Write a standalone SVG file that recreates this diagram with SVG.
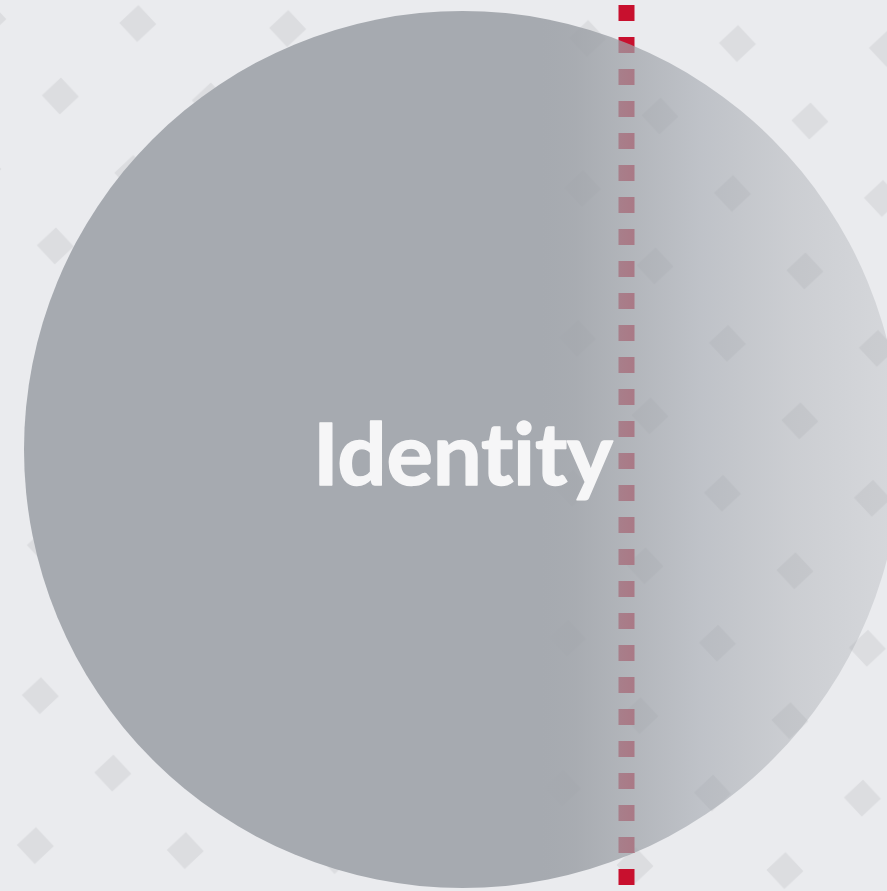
<svg xmlns="http://www.w3.org/2000/svg" width="887" height="891" viewBox="0 0 887 891">
  <style>
    .bg { fill: #EAEBEE; }
    .dia { fill: #DCDDE0; }
    .dots { fill: none; stroke: #C8102E; stroke-width: 16; stroke-dasharray: 16 16; }
    .label { font-family: Lato, "Open Sans", "Liberation Sans", sans-serif; font-weight: 700; font-size: 87px; fill: #F6F6F7; stroke: #F6F6F7; stroke-width: 1.4; stroke-linejoin: round; font-variant-ligatures: none; font-feature-settings: "liga" 0; }
  </style>
  <defs>
    <pattern id="diamonds" patternUnits="userSpaceOnUse" x="0" y="0" width="150" height="150" patternTransform="translate(660 116) rotate(1.91)">
      <polygon class="dia" points="75,56.5 93.5,75 75,93.5 56.5,75"/>
      <polygon class="dia" points="0,-18.5 18.5,0 0,18.5 -18.5,0"/>
      <polygon class="dia" points="150,-18.5 168.5,0 150,18.5 131.5,0"/>
      <polygon class="dia" points="0,131.5 18.5,150 0,168.5 -18.5,150"/>
      <polygon class="dia" points="150,131.5 168.5,150 150,168.5 131.5,150"/>
    </pattern>
    <linearGradient id="circleFill" gradientUnits="userSpaceOnUse" x1="0" y1="0" x2="901" y2="0">
      <stop offset="0" stop-color="#A6AAB0" stop-opacity="1"/>
      <stop offset="0.6" stop-color="#A6AAB0" stop-opacity="1"/>
      <stop offset="0.64" stop-color="#9EA2A8" stop-opacity="0.86"/>
      <stop offset="0.695" stop-color="#9EA2A8" stop-opacity="0.74"/>
      <stop offset="0.777" stop-color="#9EA3AB" stop-opacity="0.57"/>
      <stop offset="0.88" stop-color="#9EA2A8" stop-opacity="0.4"/>
      <stop offset="1" stop-color="#9EA2A8" stop-opacity="0.26"/>
    </linearGradient>
  </defs>
  <g id="background">
    <rect class="bg" x="0" y="0" width="887" height="891"/>
    <rect x="0" y="0" width="887" height="891" fill="url(#diamonds)"/>
  </g>
  <g id="connectors">
    <line class="dots" x1="626.5" y1="5" x2="626.5" y2="885"/>
  </g>
  <g id="identity">
    <circle cx="462.5" cy="449.5" r="438.5" fill="url(#circleFill)"/>
    <text class="label" x="463" y="485" text-anchor="middle" textLength="300">Identity</text>
  </g>
</svg>
